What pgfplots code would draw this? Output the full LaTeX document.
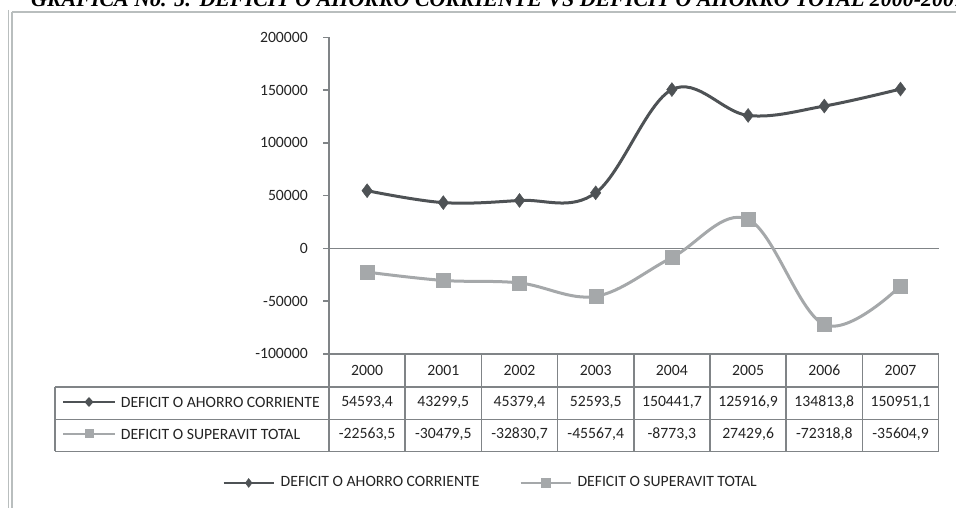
\documentclass[border=0pt]{standalone}
\usepackage{pgfplots}
\pgfplotsset{compat=1.18}
\usepackage{fontspec}
\setmainfont{Carlito}
\newfontfamily\titlefont{Liberation Serif}
\definecolor{darkser}{RGB}{78,82,85}
\definecolor{lightser}{RGB}{165,168,170}
\definecolor{axgray}{RGB}{128,132,135}
\definecolor{framegray}{RGB}{185,190,190}
\definecolor{txt}{RGB}{35,35,35}
\begin{document}
\fontsize{15.7}{18}\selectfont
\begin{tikzpicture}
\useasboundingbox (0,0) rectangle (956pt,508pt);
\clip (0,0) rectangle (956pt,508pt);
\begin{scope}[x=1pt,y=-1pt,yshift=508pt]
  % frame
  \draw[framegray, line width=1.2pt] (8.5,10) -- (8.5,508);
  \draw[framegray, line width=1.2pt] (12,12) -- (12,508);
  \draw[framegray, line width=1.2pt] (12,12) -- (956,12);
  % title (clipped at top, as in the source)
  \node[anchor=base west, inner sep=0pt] at (31,6.5) {\resizebox{934pt}{!}{\titlefont\bfseries\itshape GRAFICA No. 5: DEFICIT O AHORRO CORRIENTE VS DEFICIT O AHORRO TOTAL 2000-2007}};
  % table lines
  \begin{scope}[axgray, line width=1.5pt]
    \draw (329,37.3) -- (329,451.5);
    \draw (329,353.8) -- (938.6,353.8);
    \draw (55,387) -- (938.6,387);
    \draw (55,419.5) -- (938.6,419.5);
    \draw (55,451.5) -- (938.6,451.5);
    \draw (55,387) -- (55,451.5);
    \foreach \i in {1,...,8} {\draw ({329+76.2*\i},353.8) -- ({329+76.2*\i},451.5);}
  \end{scope}
  \begin{scope}[every node/.style={txt, inner sep=0pt}]
  \foreach \y [count=\i from 0] in {2000,2001,2002,2003,2004,2005,2006,2007}
    {\node at ({367.1+76.2*\i},370.7) {\y};}
  \node at (367.1,402) {54593,4};
  \node at (443.3,402) {43299,5};
  \node at (519.5,402) {45379,4};
  \node at (595.7,402) {52593,5};
  \node at (671.9,402) {150441,7};
  \node at (748.1,402) {125916,9};
  \node at (824.3,402) {134813,8};
  \node at (900.5,402) {150951,1};
  \node at (367.1,434) {-22563,5};
  \node at (443.3,434) {-30479,5};
  \node at (519.5,434) {-32830,7};
  \node at (595.7,434) {-45567,4};
  \node at (671.9,434) {-8773,3};
  \node at (748.1,434) {27429,6};
  \node at (824.3,434) {-72318,8};
  \node at (900.5,434) {-35604,9};
  \node[anchor=west] at (120.7,402) {DEFICIT O AHORRO CORRIENTE};
  \node[anchor=west] at (120.7,434) {DEFICIT O SUPERAVIT TOTAL};
  \end{scope}
  % row-label symbols
  \draw[darkser, line width=2pt] (63,402) -- (115,402);
  \fill[darkser] (89,397) -- (93.5,402) -- (89,407) -- (84.5,402) -- cycle;
  \draw[lightser, line width=2pt] (63,434) -- (115,434);
  \fill[lightser] (84.5,429.5) rectangle (93.5,438.5);
\end{scope}
\begin{axis}[
  at={(329pt,154.2pt)}, anchor=south west,
  scale only axis, width=609.6pt, height=316.5pt,
  xmin=-0.5, xmax=7.5, ymin=-100000, ymax=200000,
  axis x line=none, axis y line=left,
  axis line style={-, axgray, line width=1.5pt},
  xtick=\empty,
  ytick={-100000,-50000,0,50000,100000,150000,200000},
  yticklabels={-100000,-50000,0,50000,100000,150000,200000},
  scaled y ticks=false,
  tick align=outside, major tick length=6pt,
  tick style={axgray, line width=1.5pt},
  yticklabel style={anchor=east, inner sep=0pt, xshift=-15pt, txt},
  clip=false,
  legend columns=2,
  legend style={draw=none, fill=none, at={(-0.1744,-0.408)}, anchor=west,
    inner sep=0pt, outer sep=0pt, font=\color{txt},
    /tikz/every odd column/.append style={column sep=4pt},
    /tikz/every even column/.append style={column sep=38pt}},
  legend cell align=left,
  legend image code/.code={\draw[mark repeat=2, mark phase=2, #1] plot coordinates {(0pt,0pt) (25pt,0pt) (50pt,0pt)};},
  legend image post style={mark size=4.5pt, line width=2pt},
]
\draw[axgray, line width=1.5pt] (axis cs:-0.5,0) -- (axis cs:7.5,0);
\addplot[smooth, tension=0.6, darkser, line width=3pt, mark=diamond*, mark size=7pt, mark options={solid, line width=0.4pt, fill=darkser}]
  coordinates {(0,54593.4) (1,43299.5) (2,45379.4) (3,52593.5) (4,150441.7) (5,125916.9) (6,134813.8) (7,150951.1)};
\addlegendentry{DEFICIT O AHORRO CORRIENTE}
\addplot[smooth, tension=0.6, lightser, line width=3pt, mark=square*, mark size=7pt, mark options={solid, line width=0.4pt, fill=lightser}]
  coordinates {(0,-22563.5) (1,-30479.5) (2,-32830.7) (3,-45567.4) (4,-8773.3) (5,27429.6) (6,-72318.8) (7,-35604.9)};
\addlegendentry{DEFICIT O SUPERAVIT TOTAL}
\end{axis}
\end{tikzpicture}
\end{document}
